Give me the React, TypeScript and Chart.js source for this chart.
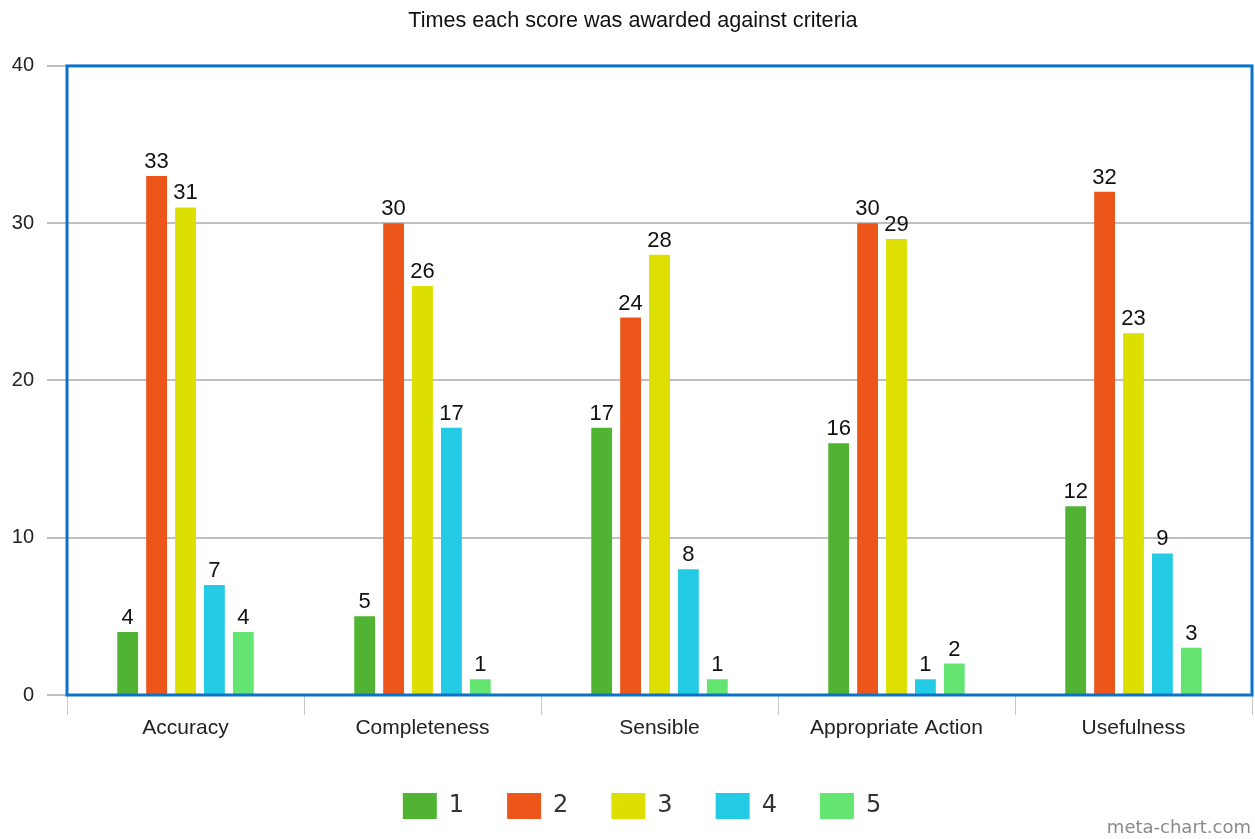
import React, { useEffect, useRef } from "react";
import { Chart, registerables } from "chart.js";

Chart.register(...registerables);

const categories = ["Accuracy", "Completeness", "Sensible", "Appropriate Action", "Usefulness"];
const seriesNames = ["1", "2", "3", "4", "5"];
const score1 = [4, 5, 17, 16, 12];
const score2 = [33, 30, 24, 30, 32];
const score3 = [31, 26, 28, 29, 23];
const score4 = [7, 17, 8, 1, 9];
const score5 = [4, 1, 1, 2, 3];
const colors = ["#50B432", "#ED561B", "#DDDF00", "#24CBE5", "#64E572"];
const yTicks = [0, 10, 20, 30, 40];

const FONT = "'Liberation Sans', Arial, sans-serif";
const LEGEND_FONT = "'DejaVu Sans', Verdana, sans-serif";

const valueLabels = {
  id: "valueLabels",
  afterDatasetsDraw(chart: any) {
    const ctx = chart.ctx;
    ctx.save();
    ctx.font = `22px ${FONT}`;
    ctx.fillStyle = "#111";
    ctx.textAlign = "center";
    ctx.textBaseline = "alphabetic";
    chart.data.datasets.forEach((ds: any, i: number) => {
      const meta = chart.getDatasetMeta(i);
      meta.data.forEach((bar: any, j: number) => {
        ctx.fillText(String(ds.data[j]), bar.x, bar.y - 8);
      });
    });
    ctx.restore();
  },
};

const frame = {
  id: "frame",
  afterLayout(chart: any) {
    if (chart.legend) {
      chart.legend.left += 16;
      chart.legend.right += 16;
    }
    if (chart.titleBlock) {
      chart.titleBlock.left += 7;
      chart.titleBlock.right += 7;
    }
  },
  afterDraw(chart: any) {
    const { ctx, chartArea } = chart;
    ctx.save();
    ctx.strokeStyle = "#0A72C8";
    ctx.lineWidth = 3;
    ctx.strokeRect(chartArea.left, chartArea.top, chartArea.right - chartArea.left, chartArea.bottom - chartArea.top);
    ctx.font = `18px ${LEGEND_FONT}`;
    ctx.fillStyle = "#8a8a8a";
    ctx.textAlign = "right";
    ctx.textBaseline = "bottom";
    ctx.fillText("meta-chart.com", chart.width - 4, chart.height - 2);
    ctx.restore();
  },
};

export default function App() {
  const ref = useRef<HTMLCanvasElement>(null);
  useEffect(() => {
    document.body.style.margin = "0";
    const data = [score1, score2, score3, score4, score5];
    const chart = new Chart(ref.current!, {
      type: "bar",
      data: {
        labels: categories,
        datasets: data.map((d, i) => ({
          label: seriesNames[i],
          data: d,
          backgroundColor: colors[i],
          categoryPercentage: 0.61,
          barPercentage: 0.72,
        })),
      },
      options: {
        animation: false,
        responsive: false,
        devicePixelRatio: 1,
        layout: { padding: { left: 0, right: 3, top: 0, bottom: 10 } },
        plugins: {
          title: {
            display: true,
            text: "Times each score was awarded against criteria",
            color: "#111",
            font: { family: FONT, size: 21.6, weight: "normal" },
            padding: { top: 8, bottom: 32 },
          },
          legend: {
            position: "bottom",
            labels: {
              color: "#333",
              font: { family: LEGEND_FONT, size: 24 },
              boxWidth: 34,
              boxHeight: 26,
              padding: 43,
            },
          },
          tooltip: { enabled: false },
        },
        scales: {
          x: {
            grid: { display: true, drawOnChartArea: false, drawTicks: true, tickLength: 20, color: "#c8c8c8", offset: true },
            border: { display: false },
            ticks: { color: "#222", font: { family: FONT, size: 21 }, padding: 1 },
            afterFit(scale: any) {
              scale.height = 55;
            },
          },
          y: {
            min: 0,
            max: 40,
            afterBuildTicks(scale: any) {
              scale.ticks = yTicks.map((v) => ({ value: v }));
            },
            grid: { color: "#c0c0c0", lineWidth: 2, tickLength: 20 },
            border: { display: false },
            ticks: { color: "#222", font: { family: FONT, size: 20 }, padding: 13 },
            afterFit(scale: any) {
              scale.width = 67;
            },
          },
        },
      },
      plugins: [valueLabels, frame],
    });
    return () => chart.destroy();
  }, []);
  return <canvas ref={ref} width={1255} height={839} style={{ display: "block" }} />;
}
